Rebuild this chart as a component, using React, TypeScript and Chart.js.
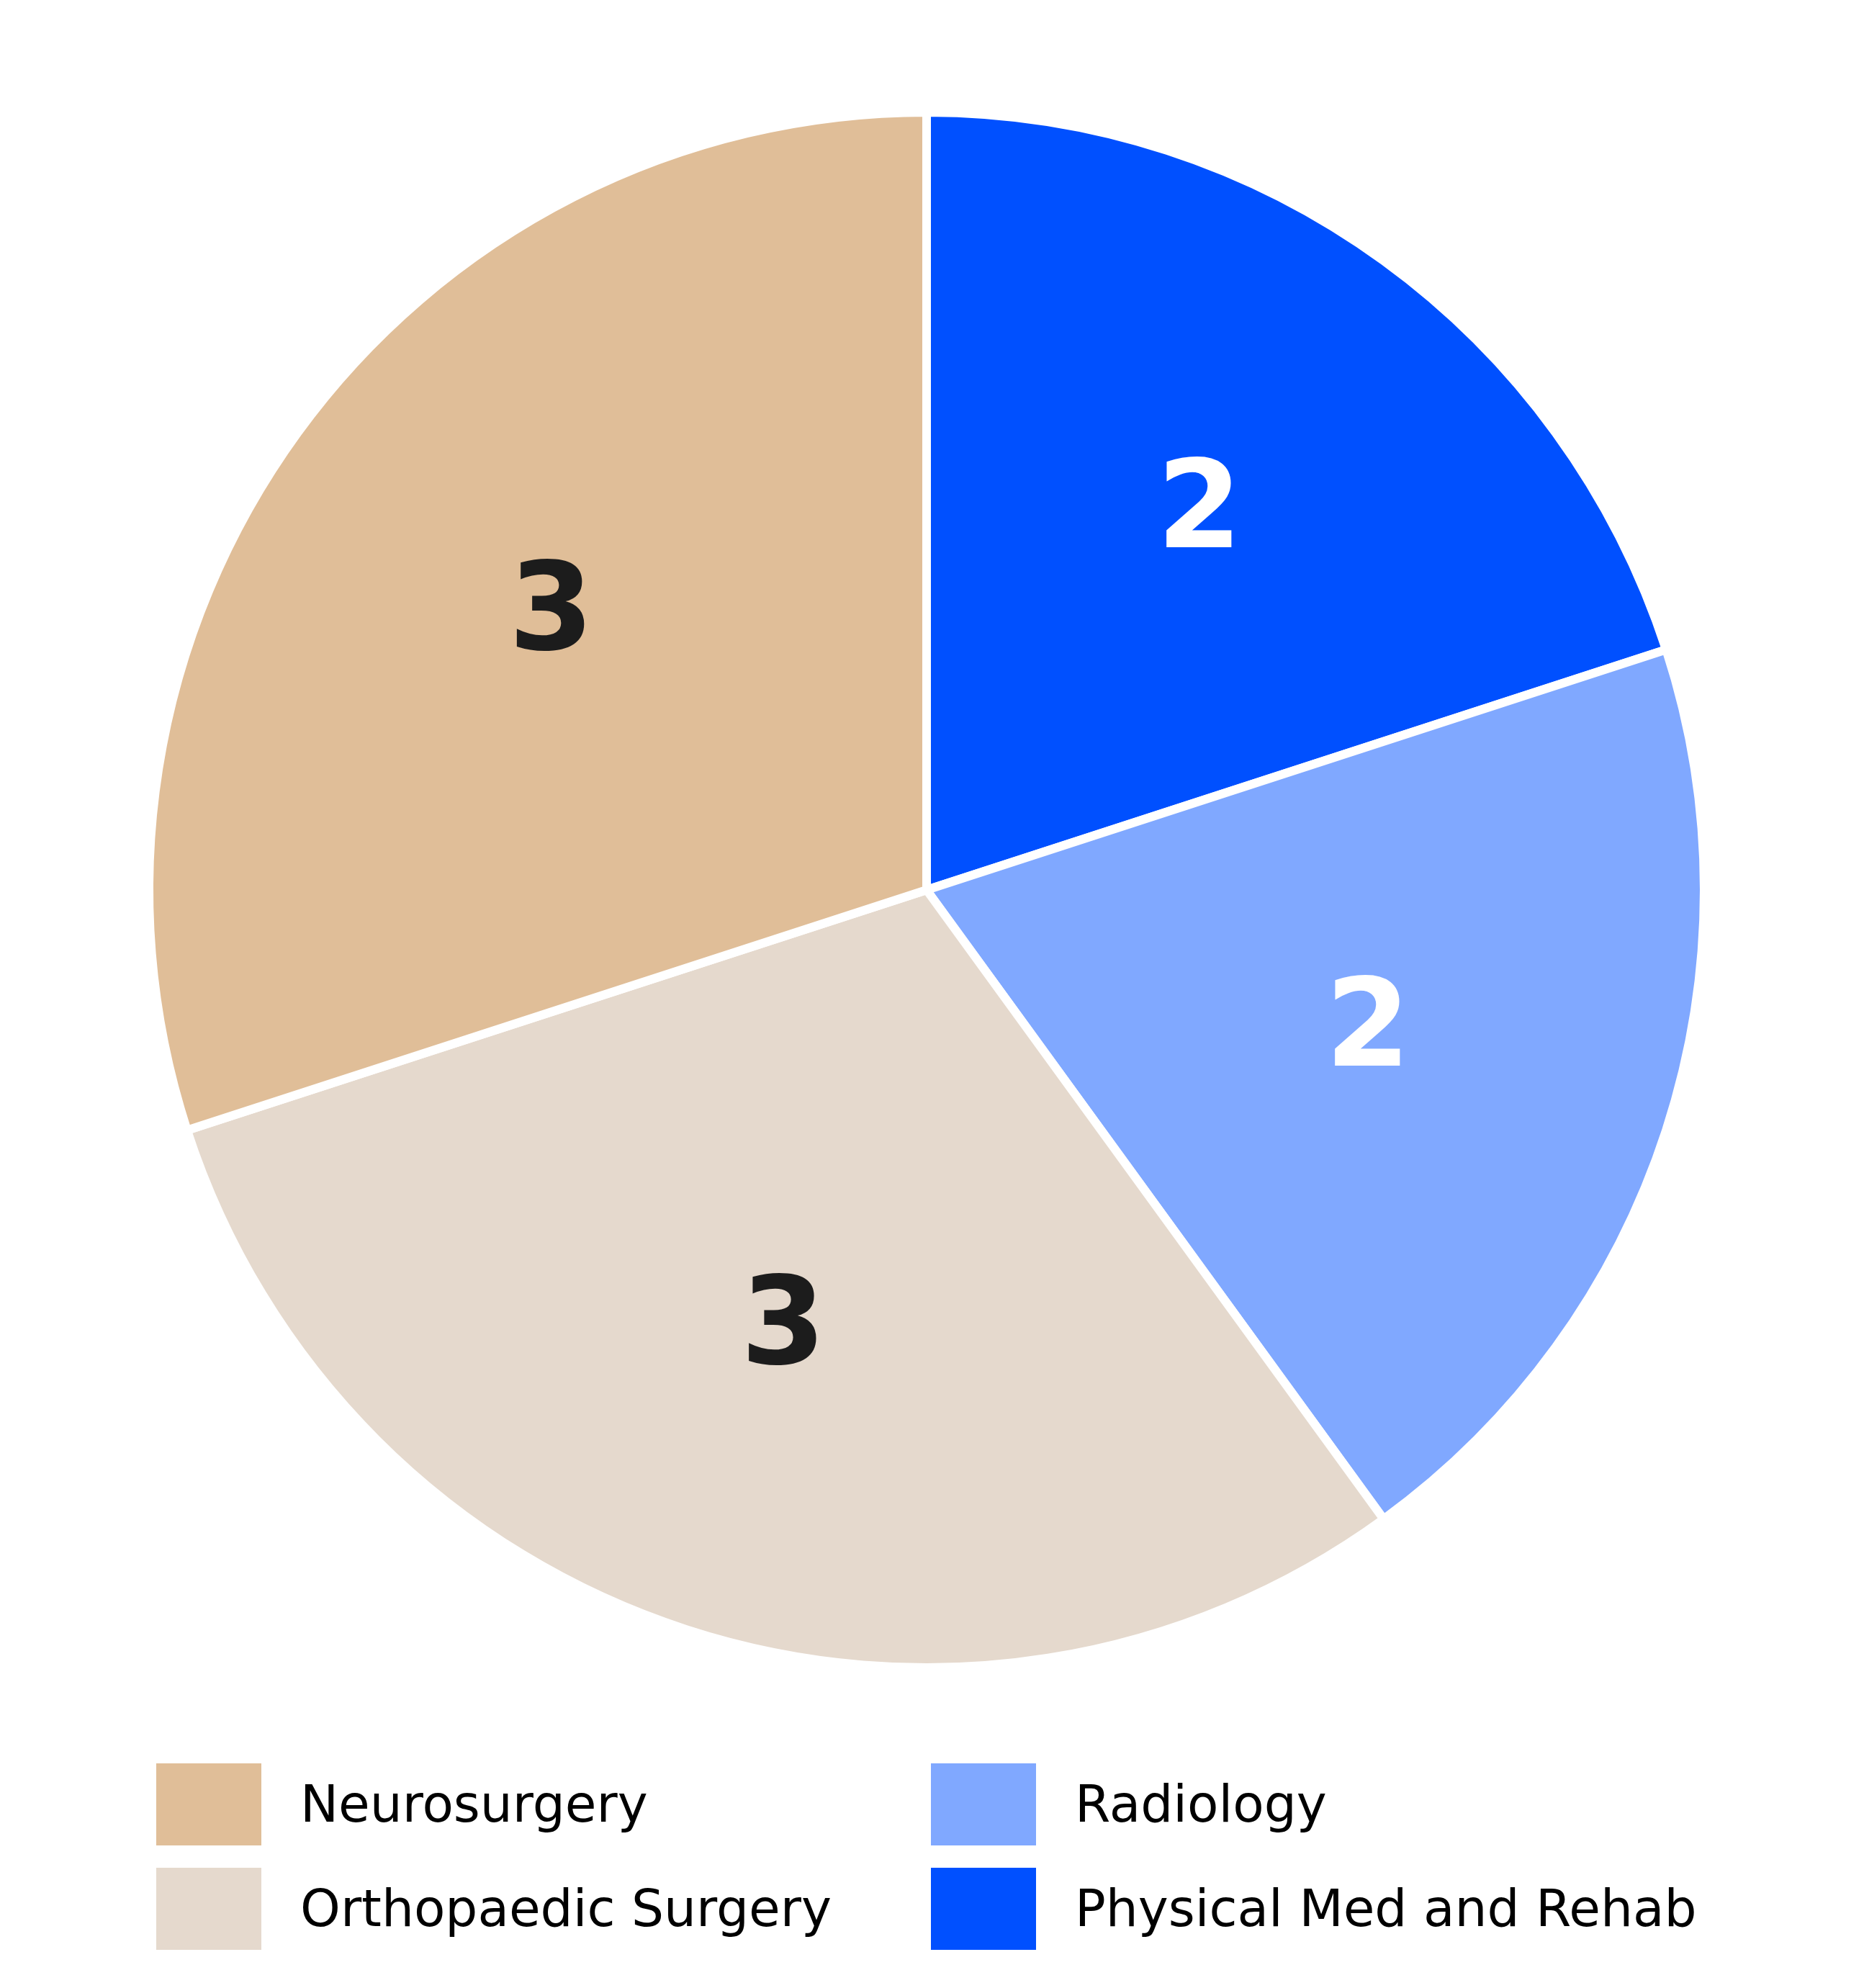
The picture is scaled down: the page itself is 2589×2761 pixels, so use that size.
import { useEffect, useRef } from "react";
import { Chart, ChartConfiguration, Plugin } from "chart.js/auto";

// legend order (as in the reference, column by column)
const categories = ["Neurosurgery", "Orthopaedic Surgery", "Radiology", "Physical Med and Rehab"];
const counts = [3, 3, 2, 2];
const sliceColors = ["#E0BE98", "#E5D9CD", "#80A8FF", "#0050FF"];
const labelColors = ["#1C1C1C", "#1C1C1C", "#FFFFFF", "#FFFFFF"];

const W = 2589;
const H = 2761;
const BORDER = 12;

// slices are drawn clockwise from 12 o'clock, so the chart gets the reversed order
const pieLabels = [...categories].reverse();
const pieValues = [...counts].reverse();
const pieColors = [...sliceColors].reverse();
const pieTextColors = [...labelColors].reverse();

const valueLabels: Plugin<"pie"> = {
  id: "valueLabels",
  afterDatasetsDraw(chart) {
    const ctx = chart.ctx;
    const meta = chart.getDatasetMeta(0);
    ctx.save();
    ctx.font = "bold 170px 'DejaVu Sans'";
    ctx.textAlign = "center";
    ctx.textBaseline = "alphabetic";
    meta.data.forEach((el, i) => {
      const { x, y, startAngle, endAngle, outerRadius } = (el as any).getProps(
        ["x", "y", "startAngle", "endAngle", "outerRadius"],
        true
      );
      const mid = (startAngle + endAngle) / 2;
      const r = (outerRadius - BORDER / 2) * 0.6;
      const ax = x + Math.cos(mid) * r;
      const ay = y + Math.sin(mid) * r;
      ctx.fillStyle = pieTextColors[i];
      ctx.fillText(String(pieValues[i]), ax, ay + 45);
    });
    ctx.restore();
  },
};

const gridLegend: Plugin<"pie"> = {
  id: "gridLegend",
  afterDraw(chart) {
    const ctx = chart.ctx;
    ctx.save();
    ctx.font = "71px 'DejaVu Sans'";
    ctx.textAlign = "left";
    ctx.textBaseline = "alphabetic";
    categories.forEach((name, i) => {
      const col = Math.floor(i / 2);
      const row = i % 2;
      const bx = col === 0 ? 217 : 1293;
      const by = 2449 + row * 145;
      ctx.fillStyle = sliceColors[i];
      ctx.fillRect(bx, by, 146, 114);
      ctx.fillStyle = "#000000";
      ctx.fillText(name, bx + 200, by + 81);
    });
    ctx.restore();
  },
};

export default function App() {
  const chartRef = useRef<HTMLCanvasElement | null>(null);
  const chartInstanceRef = useRef<Chart<"pie"> | null>(null);

  useEffect(() => {
    const canvas = chartRef.current;
    if (!canvas) return;
    const ctx = canvas.getContext("2d");
    if (!ctx) return;

    if (chartInstanceRef.current) {
      chartInstanceRef.current.destroy();
    }

    const config: ChartConfiguration<"pie", number[], string> = {
      type: "pie",
      data: {
        labels: pieLabels,
        datasets: [
          {
            data: pieValues,
            backgroundColor: pieColors,
            borderColor: "#FFFFFF",
            borderWidth: BORDER,
            hoverBorderWidth: BORDER,
            hoverOffset: 0,
          },
        ],
      },
      options: {
        responsive: false,
        devicePixelRatio: 1,
        animation: false,
        layout: {
          padding: { left: 201, right: 216, top: 150, bottom: 439 },
        },
        plugins: {
          legend: { display: false },
          tooltip: { enabled: false },
        },
      },
      plugins: [valueLabels, gridLegend],
    };

    chartInstanceRef.current = new Chart(ctx, config);

    return () => {
      if (chartInstanceRef.current) {
        chartInstanceRef.current.destroy();
        chartInstanceRef.current = null;
      }
    };
  }, []);

  return (
    <div style={{ position: "absolute", left: 0, top: 0, width: W, height: H, background: "#FFFFFF" }}>
      <canvas ref={chartRef} width={W} height={H} style={{ width: W, height: H, display: "block" }} />
    </div>
  );
}
